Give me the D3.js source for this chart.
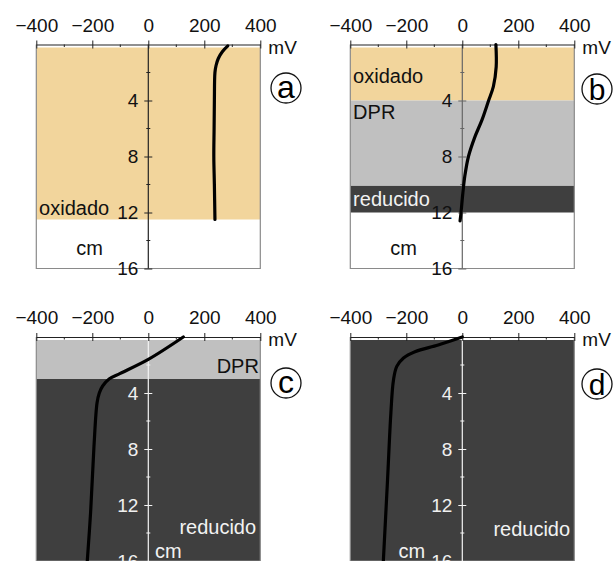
<!DOCTYPE html>
<html><head><meta charset="utf-8">
<script src="https://cdn.jsdelivr.net/npm/d3@7"></script>
<style>
html,body{margin:0;padding:0;background:#fff;}
svg{display:block;font-family:"Liberation Sans",Arial,Helvetica,sans-serif;}
</style></head>
<body>
<svg id="chart" width="614" height="561"></svg>
<script>
// ---- data ----
const mvTicks = [-400, -200, 0, 200, 400];
const mvMinor = [-300, -100, 100, 300];
const depthTicks = [4, 8, 12, 16];
const depthMinor = [2, 6, 10, 14];
const panelIds = ["a", "b", "c", "d"];

// zones: [fromDepth, toDepth, kind]
const zonesA = [[0, 12.5, "oxidado"]];
const zonesB = [[0, 4, "oxidado"], [4, 10.1, "DPR"], [10.1, 12, "reducido"]];
const zonesC = [[0, 3, "DPR"], [3, 16, "reducido"]];
const zonesD = [[0, 16, "reducido"]];

// redox profiles: depth (cm), Eh (mV)
const depthA = [0.1, 0.5, 1, 1.5, 2, 4, 6, 8, 10, 12.5];
const mvA    = [284, 265, 250, 242, 238, 236, 235, 234, 236, 238];
const depthB = [0, 1.6, 3, 4, 5.4, 6.6, 8, 9.4, 10.6, 12.1, 12.6];
const mvB    = [120, 121, 111, 94, 70, 45, 22, 9, 2, -5, -8];
const depthC = [0, 1.6, 2.6, 3, 3.5, 4, 4.7, 7.8, 12.5, 16];
const mvC    = [125, 0, -100, -140, -163, -175, -183, -194, -206, -218];
const depthD = [0, 0.57, 1.05, 1.5, 2.1, 3.1, 5.4, 10.2, 16];
const mvD    = [0, -86, -169, -210, -234, -246, -255, -267, -282];

// zone labels: [text, mV, depth, anchor]
const labelsA = [["oxidado", -390, 12.2, "start"], ["cm", -210, 15.0, "middle"]];
const labelsB = [["oxidado", -390, 2.75, "start"], ["DPR", -390, 5.35, "start"], ["reducido", -390, 11.55, "start"], ["cm", -210, 15.0, "middle"]];
const labelsC = [["DPR", 395, 2.6, "end"], ["reducido", 385, 14.1, "end"], ["cm", 24, 15.75, "start"]];
const labelsD = [["reducido", 385, 14.2, "end"], ["cm", -133, 15.75, "end"]];

// ---- styles ----
const zoneColor = {oxidado: "#f2d59c", DPR: "#c0c0c0", reducido: "#3f3f3f"};
const zoneText = {oxidado: "#111", DPR: "#111", reducido: "#f2f2f2"};

const panels = [
  {id: "a", ox: 36.3, oy: 44.5, zones: zonesA, depth: depthA, mv: mvA, labels: labelsA, axisCol: "#222", tickText: "#111", dark: false, circle: [286, 88]},
  {id: "b", ox: 350.3, oy: 44.5, zones: zonesB, depth: depthB, mv: mvB, labels: labelsB, axisCol: "#666", tickText: "#111", dark: false, circle: [597, 89]},
  {id: "c", ox: 36.3, oy: 337, zones: zonesC, depth: depthC, mv: mvC, labels: labelsC, axisCol: "#f4f4f4", tickText: "#f0f0f0", dark: true, circle: [286, 383]},
  {id: "d", ox: 350.3, oy: 337, zones: zonesD, depth: depthD, mv: mvD, labels: labelsD, axisCol: "#f4f4f4", tickText: "#f0f0f0", dark: true, circle: [597, 384]}
];

const W = 224, H = 224;
const x = d3.scaleLinear().domain([-400, 400]).range([0, W]);
const y = d3.scaleLinear().domain([0, 16]).range([0, H]);

const svg = d3.select("#chart");
const FONT = "Liberation Sans, Arial, sans-serif";

panels.forEach(p => {
  const g = svg.append("g").attr("transform", `translate(${p.ox},${p.oy})`);

  // zone fills
  g.selectAll("rect.zone").data(p.zones).join("rect")
    .attr("class", "zone")
    .attr("x", x(-400))
    .attr("width", x(400) - x(-400))
    .attr("y", d => d[0] === 0 ? y(0) + 3 : y(d[0]))
    .attr("height", d => y(d[1]) - (d[0] === 0 ? y(0) + 3 : y(d[0])))
    .attr("fill", d => zoneColor[d[2]]);

  // frame
  g.append("path")
    .attr("d", `M${x(-400)},${y(0)}V${y(16)}H${x(400)}V${y(0)}`)
    .attr("fill", "none").attr("stroke", "#8a8a8a").attr("stroke-width", 1.2);

  // zone labels
  g.selectAll("text.zl").data(p.labels).join("text")
    .attr("class", "zl")
    .attr("x", d => x(d[1])).attr("y", d => y(d[2]))
    .attr("text-anchor", d => d[3])
    .attr("font-size", 20)
    .attr("fill", d => {
      if (d[0] === "cm") return p.dark ? "#f2f2f2" : "#111";
      return zoneText[d[0]];
    })
    .text(d => d[0]);

  // vertical depth axis at 0 mV
  const ya = d3.axisLeft(y).tickValues(depthTicks).tickSize(4).tickPadding(6).tickSizeOuter(0);
  const yg = g.append("g").attr("transform", `translate(${x(0)},0)`).call(ya);
  yg.select(".domain").remove();
  yg.selectAll(".tick line").attr("x1", -4).attr("x2", 4).attr("stroke", p.axisCol).attr("stroke-width", 1);
  yg.selectAll(".tick text").attr("font-size", 19).attr("fill", p.tickText).attr("font-family", FONT);
  g.append("line").attr("x1", x(0)).attr("x2", x(0)).attr("y1", y(0)).attr("y2", y(16))
    .attr("stroke", p.axisCol).attr("stroke-width", 1.2);
  g.selectAll("line.ymin").data(depthMinor).join("line").attr("class", "ymin")
    .attr("x1", x(0) - 2).attr("x2", x(0) + 2).attr("y1", d => y(d)).attr("y2", d => y(d))
    .attr("stroke", p.axisCol);

  // top mV axis
  const xa = d3.axisTop(x).tickValues(mvTicks).tickSize(4).tickPadding(9).tickSizeOuter(0);
  const xg = g.append("g").call(xa);
  xg.select(".domain").attr("stroke", "#222").attr("stroke-width", 1.2);
  xg.selectAll(".tick line").attr("y1", -4).attr("y2", 4).attr("stroke", "#222");
  xg.selectAll(".tick text").attr("font-size", 19).attr("fill", "#111").attr("font-family", FONT);
  g.selectAll("line.xmin").data(mvMinor).join("line").attr("class", "xmin")
    .attr("x1", d => x(d)).attr("x2", d => x(d)).attr("y1", 0).attr("y2", 2.5)
    .attr("stroke", "#222");
  g.append("text").attr("x", x(400) + 8).attr("y", 9).attr("font-size", 19).attr("fill", "#111").text("mV");

  // profile line
  const pts = p.depth.map((dd, i) => [x(p.mv[i]), y(dd)]);
  g.append("path")
    .attr("d", d3.line().curve(d3.curveCatmullRom.alpha(0.5))(pts))
    .attr("fill", "none").attr("stroke", "#000").attr("stroke-width", 3.2).attr("stroke-linecap", "round");

  // circled panel letter
  const c = svg.append("g").attr("transform", `translate(${p.circle[0]},${p.circle[1]})`);
  c.append("circle").attr("r", 15).attr("fill", "#fff").attr("stroke", "#111").attr("stroke-width", 1.3);
  c.append("text").attr("text-anchor", "middle").attr("y", p.id === "a" || p.id === "c" ? 10 : 11)
    .attr("font-size", p.id === "a" || p.id === "c" ? 32 : 30).attr("fill", "#000").text(p.id);
});
</script>
</body></html>
